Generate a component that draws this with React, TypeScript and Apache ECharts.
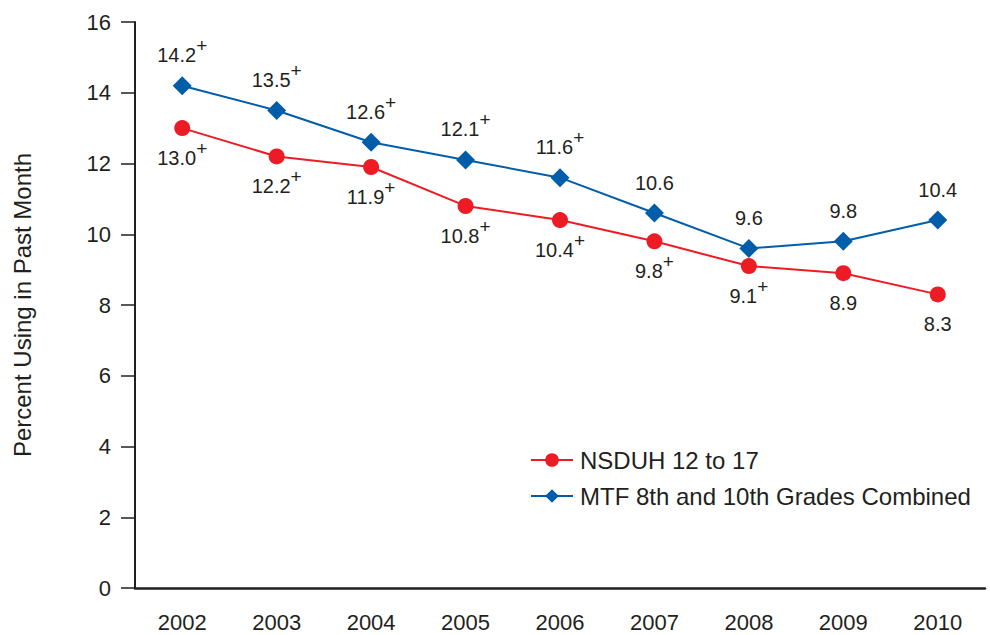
import React, { useEffect, useRef } from "react";
import * as echarts from "echarts";

const years = ["2002", "2003", "2004", "2005", "2006", "2007", "2008", "2009", "2010"];
const nsduhValues = [13.0, 12.2, 11.9, 10.8, 10.4, 9.8, 9.1, 8.9, 8.3];
const nsduhPlus = [true, true, true, true, true, true, true, false, false];
const mtfValues = [14.2, 13.5, 12.6, 12.1, 11.6, 10.6, 9.6, 9.8, 10.4];
const mtfPlus = [true, true, true, true, true, false, false, false, false];
const yTicks = [0, 2, 4, 6, 8, 10, 12, 14, 16];

const RED = "#ed1c24";
const BLUE = "#005daa";
const INK = "#231f20";
const FONT = "Liberation Sans, Arial, sans-serif";

function fmt(plus: boolean[]) {
  return (p: any) => {
    const v = Number(p.value).toFixed(1);
    return plus[p.dataIndex] ? `{v|${v}}{s|+}` : `{v|${v}}`;
  };
}

const rich = {
  v: { fontSize: 20, fontFamily: FONT, color: INK, lineHeight: 22, verticalAlign: "bottom" },
  s: { fontSize: 19, fontFamily: FONT, color: INK, lineHeight: 22, verticalAlign: "bottom", padding: [0, 0, 10, 0] },
};

export default function App() {
  const ref = useRef<HTMLDivElement>(null);
  useEffect(() => {
    if (!ref.current) return;
    const chart = echarts.init(ref.current, null, { renderer: "svg" });
    chart.setOption({
      animation: false,
      backgroundColor: "#ffffff",
      grid: { left: 135, right: 5, top: 22, bottom: 47, containLabel: false },
      legend: {
        orient: "vertical",
        left: 525,
        top: 443,
        itemWidth: 42,
        itemHeight: 17,
        itemGap: 12,
        textStyle: { fontSize: 24, fontFamily: FONT, color: INK, padding: [0, 0, 0, 2] },
        data: ["NSDUH 12 to 17", "MTF 8th and 10th Grades Combined"],
      },
      xAxis: {
        type: "category",
        data: years,
        boundaryGap: true,
        axisLine: { lineStyle: { color: INK, width: 2.5 } },
        axisTick: { alignWithLabel: true, length: 14, lineStyle: { color: INK, width: 1.5 } },
        axisLabel: {
          fontSize: 22,
          fontFamily: "Liberation Sans Narrow, Arial Narrow, " + FONT,
          color: INK,
          margin: 23,
        },
      },
      yAxis: {
        type: "value",
        min: 0,
        max: 16,
        interval: 2,
        name: "Percent Using in Past Month",
        nameLocation: "middle",
        nameGap: 101,
        nameTextStyle: { fontSize: 24, fontFamily: FONT, color: INK },
        axisLine: { show: true, lineStyle: { color: INK, width: 2 } },
        axisTick: { show: true, length: 14, lineStyle: { color: INK, width: 1.5 } },
        axisLabel: {
          fontSize: 22,
          fontFamily: FONT,
          color: INK,
          margin: 24,
          formatter: (v: number) => (yTicks.includes(v) ? String(v) : ""),
        },
        splitLine: { show: false },
      },
      series: [
        {
          name: "NSDUH 12 to 17",
          type: "line",
          data: nsduhValues,
          symbol: "circle",
          symbolSize: 16,
          itemStyle: { color: RED },
          lineStyle: { color: RED, width: 2 },
          label: {
            show: true,
            position: "bottom",
            distance: 10,
            formatter: fmt(nsduhPlus),
            rich,
          },
          z: 2,
        },
        {
          name: "MTF 8th and 10th Grades Combined",
          type: "line",
          data: mtfValues,
          symbol: "diamond",
          symbolSize: 19,
          itemStyle: { color: BLUE },
          lineStyle: { color: BLUE, width: 2 },
          label: {
            show: true,
            position: "top",
            distance: 11,
            formatter: fmt(mtfPlus),
            rich,
          },
          z: 3,
        },
      ],
    });
    return () => chart.dispose();
  }, []);
  return <div ref={ref} style={{ width: 990, height: 635, position: "absolute", left: 0, top: 0 }} />;
}
